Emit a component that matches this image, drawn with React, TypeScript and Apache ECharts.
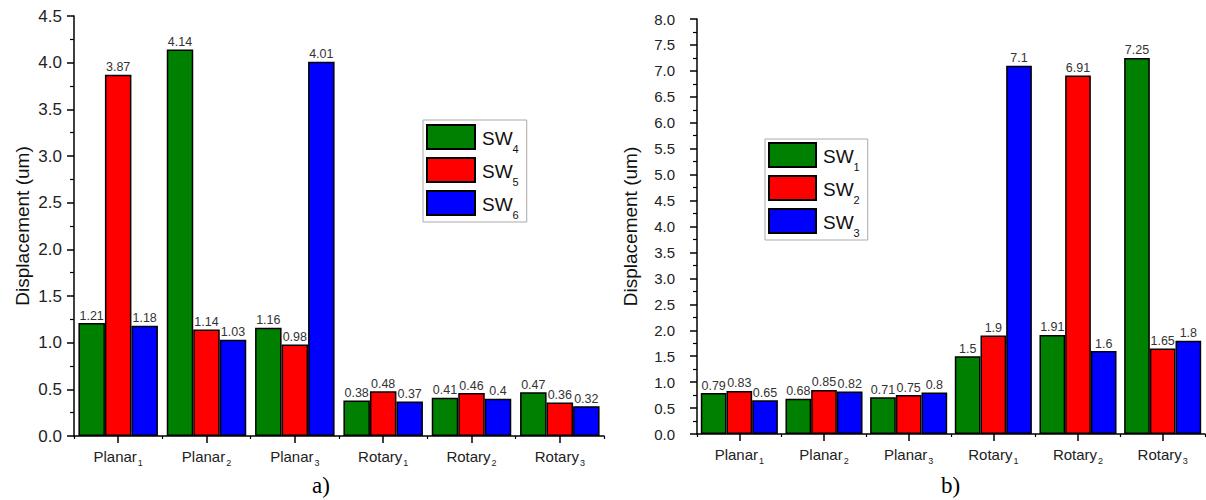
import React, { useEffect, useRef } from "react";
import * as echarts from "echarts";

const categories = ["Planar1", "Planar2", "Planar3", "Rotary1", "Rotary2", "Rotary3"];

const leftNames = ["SW4", "SW5", "SW6"];
const sw4 = [1.21, 4.14, 1.16, 0.38, 0.41, 0.47];
const sw5 = [3.87, 1.14, 0.98, 0.48, 0.46, 0.36];
const sw6 = [1.18, 1.03, 4.01, 0.37, 0.4, 0.32];

const rightNames = ["SW1", "SW2", "SW3"];
const sw1 = [0.79, 0.68, 0.71, 1.5, 1.91, 7.25];
const sw2 = [0.83, 0.85, 0.75, 1.9, 6.91, 1.65];
const sw3 = [0.65, 0.82, 0.8, 7.1, 1.6, 1.8];

const colors = ["#008000", "#ff0000", "#0000ff"];
const FONT = "Liberation Sans, Arial, sans-serif";

function catFormatter(v: string) {
  return `{n|${v.slice(0, -1)}}{s|${v.slice(-1)}}`;
}

const catRich = {
  n: { fontSize: 15, color: "#222", fontFamily: FONT, verticalAlign: "bottom", lineHeight: 18 },
  s: { fontSize: 9, color: "#222", fontFamily: FONT, verticalAlign: "bottom", lineHeight: 18, padding: [0, 0, -3, 1] },
};

const legendRich = {
  a: { fontSize: 19, color: "#111", fontFamily: FONT, verticalAlign: "bottom", lineHeight: 22, padding: [0, 0, 0, 2] },
  s: { fontSize: 11, color: "#111", fontFamily: FONT, verticalAlign: "bottom", lineHeight: 22, padding: [0, 0, -6, 0] },
};

function makeAxes(gridIndex: number, max: number, nameGap: number, labelMargin: number, labelSize: number) {
  const x = [
    {
      type: "category",
      gridIndex,
      data: categories,
      axisLine: { lineStyle: { color: "#000", width: 1.5 } },
      axisTick: { show: true, alignWithLabel: true, length: 7, lineStyle: { color: "#000", width: 1.5 } },
      axisLabel: { formatter: catFormatter, rich: catRich, margin: 10, interval: 0, hideOverlap: false },
    },
    {
      type: "category",
      gridIndex,
      data: categories,
      position: "bottom",
      axisLine: { show: false },
      axisTick: { show: true, alignWithLabel: false, length: 3, lineStyle: { color: "#000", width: 1.2 } },
      axisLabel: { show: false },
    },
  ];
  const y = {
    type: "value",
    gridIndex,
    min: 0,
    max,
    interval: 0.5,
    name: "Displacement (um)",
    nameLocation: "middle",
    nameGap,
    nameTextStyle: { fontSize: 19, color: "#111", fontFamily: FONT },
    axisLine: { show: true, lineStyle: { color: "#000", width: 1.5 } },
    axisTick: { show: true, length: 7, lineStyle: { color: "#000", width: 1.5 } },
    minorTick: { show: true, splitNumber: 2, length: 4, lineStyle: { color: "#000", width: 1.2 } },
    splitLine: { show: false },
    axisLabel: {
      fontSize: labelSize,
      color: "#222",
      fontFamily: FONT,
      margin: labelMargin,
      formatter: (v: number) => v.toFixed(1),
    },
  };
  return { x, y };
}

function makeSeries(names: string[], data: number[][], xAxisIndex: number, yAxisIndex: number, gap: string) {
  return names.map((name, i) => ({
    type: "bar",
    name,
    data: data[i],
    xAxisIndex,
    yAxisIndex,
    barGap: "0%",
    barCategoryGap: gap,
    itemStyle: { color: colors[i], borderColor: "#000", borderWidth: 1.5 },
    label: {
      show: true,
      position: "top",
      distance: 1,
      fontSize: 12.5,
      color: "#333",
      fontFamily: FONT,
    },
  }));
}

export default function App() {
  const ref = useRef<HTMLDivElement>(null);
  useEffect(() => {
    if (!ref.current) return;
    const chart = echarts.init(ref.current, null, { renderer: "svg" });
    const L = makeAxes(0, 4.5, 42, 12, 17);
    const R = makeAxes(1, 8.0, 57, 22, 15);
    chart.setOption({
      animation: false,
      backgroundColor: "#fff",
      grid: [
        { left: 74, right: 602, top: 16, bottom: 64 },
        { left: 697, right: 1, top: 19, bottom: 66 },
      ],
      xAxis: [...L.x, ...R.x],
      yAxis: [L.y, R.y],
      legend: [
        {
          data: leftNames,
          orient: "vertical",
          left: 423,
          top: 120,
          itemWidth: 48,
          itemHeight: 24,
          itemGap: 3,
          padding: [4, 8, 2, 3],
          borderColor: "#aaa",
          borderWidth: 1,
          icon: "rect",
          formatter: (n: string) => `{a|SW}{s|${n.slice(2)}}`,
          textStyle: { rich: legendRich },
        },
        {
          data: rightNames,
          orient: "vertical",
          left: 765,
          top: 139,
          itemWidth: 47,
          itemHeight: 24,
          itemGap: 3,
          padding: [3, 8, 2, 3],
          borderColor: "#aaa",
          borderWidth: 1,
          icon: "rect",
          formatter: (n: string) => `{a|SW}{s|${n.slice(2)}}`,
          textStyle: { rich: legendRich },
        },
      ],
      series: [
        ...makeSeries(leftNames, [sw4, sw5, sw6], 0, 0, "10%"),
        ...makeSeries(rightNames, [sw1, sw2, sw3], 2, 1, "9%"),
      ],
      graphic: [
        {
          type: "text",
          left: 312,
          top: 474,
          style: { text: "a)", fontSize: 23, fill: "#000", fontFamily: "Liberation Serif, Times New Roman, serif" },
        },
        {
          type: "text",
          left: 941,
          top: 474,
          style: { text: "b)", fontSize: 23, fill: "#000", fontFamily: "Liberation Serif, Times New Roman, serif" },
        },
      ],
    });
    return () => chart.dispose();
  }, []);
  return (
    <div
      ref={ref}
      style={{ position: "fixed", left: 0, top: 0, width: 1206, height: 500, background: "#fff" }}
    />
  );
}
